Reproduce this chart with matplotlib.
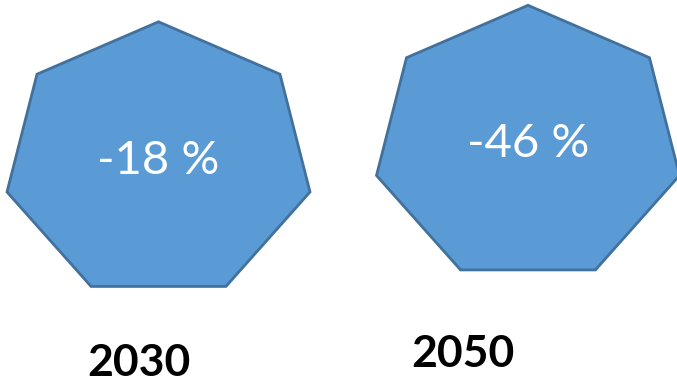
import numpy as np
import matplotlib.pyplot as plt
from matplotlib.patches import Polygon

years = ['2030', '2050']
changes = [-18, -46]

FILL = '#5B9BD5'
EDGE = '#41719C'

# shape layout in pixel space (x centre, y centre, x radius, y radius)
centres = [(158.5, 161.0), (528.0, 144.5)]
radii = (155.4, 139.2)
label_pos = [(139, 376), (463, 367)]


def heptagon(cx, cy, rx, ry):
    ang = np.deg2rad(np.arange(7) * 360 / 7)
    return np.column_stack([cx + rx * np.sin(ang), cy - ry * np.cos(ang)])


fig = plt.figure(figsize=(6.77, 3.82), dpi=100)
ax = fig.add_axes([0, 0, 1, 1])
ax.set_xlim(0, 677)
ax.set_ylim(382, 0)
ax.axis('off')

for (cx, cy), val, year, (lx, ly) in zip(centres, changes, years, label_pos):
    ax.add_patch(Polygon(heptagon(cx, cy, *radii), closed=True, facecolor=FILL,
                         edgecolor=EDGE, lw=2, joinstyle='miter'))
    ax.text(cx, cy + 12.5, f'{val} %', color='white', fontsize=34, family='Lato',
            ha='center', va='baseline')
    ax.text(lx, ly, year, color='black', fontsize=32, family='Lato',
            fontweight='bold', ha='center', va='baseline')

fig.savefig('out.png', dpi=100)
